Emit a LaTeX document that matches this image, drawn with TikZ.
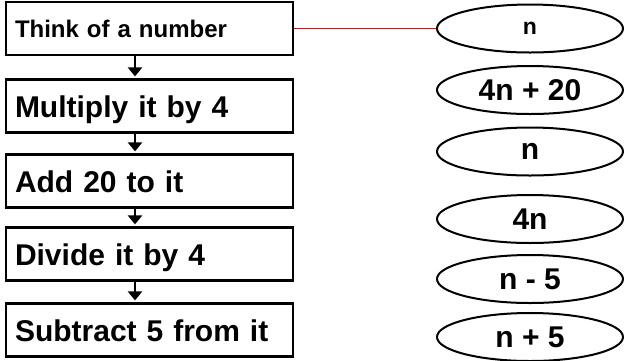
\documentclass[tikz,border=0pt]{standalone}
\usepackage{fontspec}
\setmainfont{Liberation Sans}
\usetikzlibrary{shapes.geometric,arrows.meta}
\begin{document}
\begin{tikzpicture}[x=1pt,y=-1pt,
  stepbox/.style={draw, line width=2.2pt, rectangle, minimum height=53pt,
    text width=269pt, inner xsep=9pt, inner ysep=0pt, align=left,
    font=\bfseries\fontsize{30}{30}\selectfont, text height=22pt, text depth=0pt},
  smallbox/.style={stepbox, font=\bfseries\fontsize{24}{24}\selectfont, text height=17pt},
  oval/.style={draw, ellipse, line width=2pt, minimum width=186pt, minimum height=48pt,
    inner sep=0pt, font=\bfseries\fontsize{30}{30}\selectfont},
  smalloval/.style={oval, font=\bfseries\fontsize{23}{23}\selectfont},
  flowarrow/.style={line width=2.2pt, -{Triangle[width=14pt,length=9pt]}, shorten >=2pt}
]
\useasboundingbox (0,0) rectangle (624,360);
\node[smallbox] (b1) at (149.5,28.5) {Think of a number};
\node[stepbox] (b2) at (149.5,106) {Multiply it by 4};
\node[stepbox] (b3) at (149.5,181) {Add 20 to it};
\node[stepbox] (b4) at (149.5,254) {Divide it by 4};
\node[stepbox] (b5) at (149.5,330) {Subtract 5 from it};

\draw[flowarrow] ([xshift=-14.5pt]b1.south) -- ([xshift=-14.5pt]b2.north);
\draw[flowarrow] ([xshift=-14.5pt]b2.south) -- ([xshift=-14.5pt]b3.north);
\draw[flowarrow] ([xshift=-14.5pt]b3.south) -- ([xshift=-14.5pt]b4.north);
\draw[flowarrow] ([xshift=-14.5pt]b4.south) -- ([xshift=-14.5pt]b5.north);

\node[smalloval] (e1) at (530,28.5) {n};
\node[oval] (e2) at (530,90) {4n + 20};
\node[oval] (e3) at (530,151.5) {n};
\node[oval] (e4) at (530,219) {4n};
\node[oval] (e5) at (530,279) {n - 5};
\node[oval] (e6) at (530,337) {n + 5};

\draw[red, line width=1.5pt] (b1.east) -- (e1.west);
\end{tikzpicture}
\end{document}
